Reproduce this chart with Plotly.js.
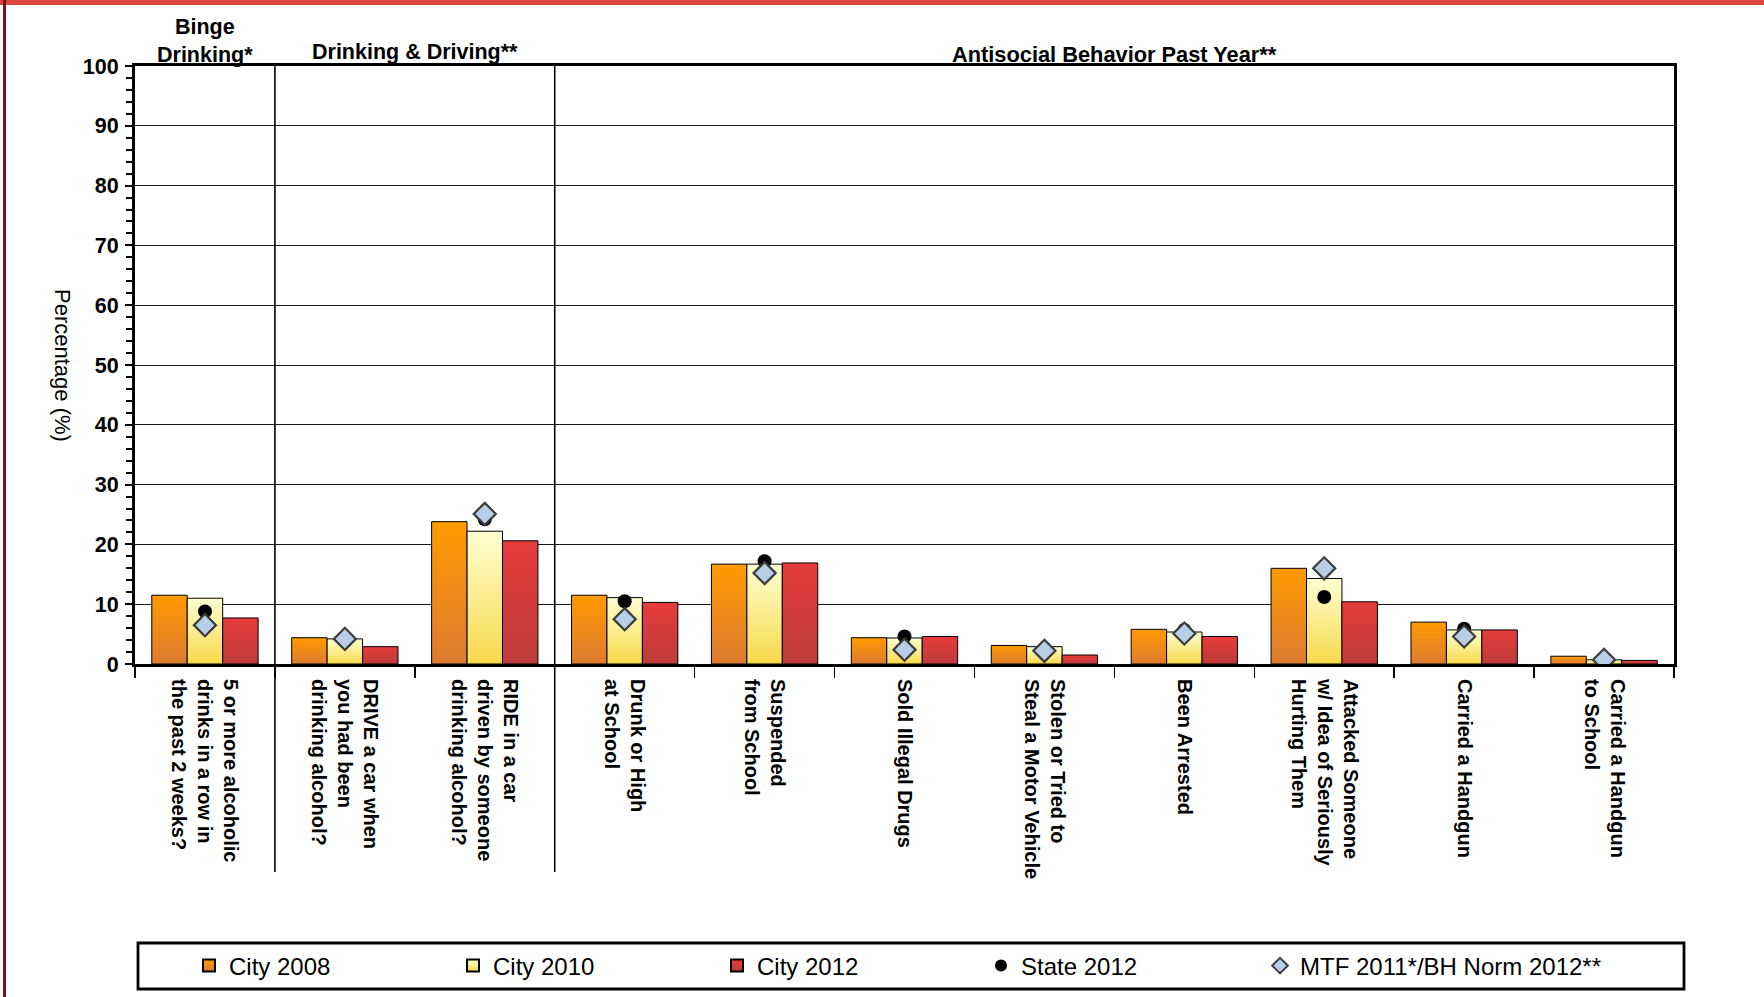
<!DOCTYPE html>
<html>
<head>
<meta charset="utf-8">
<script src="https://cdn.plot.ly/plotly-3.0.1.min.js"></script>
<style>
  html, body { margin: 0; padding: 0; background: #fff; }
  #chart { width: 1764px; height: 997px; }
</style>
</head>
<body>
<div id="chart"></div>
<script>
const categories = [
  "5 or more alcoholic<br>drinks in a row in<br>the past 2 weeks?",
  "DRIVE a car when<br>you had been<br>drinking alcohol?",
  "RIDE in a car<br>driven by someone<br>drinking alcohol?",
  "Drunk or High<br>at School",
  "Suspended<br>from School",
  "Sold Illegal Drugs",
  "Stolen or Tried to<br>Steal a Motor Vehicle",
  "Been Arrested",
  "Attacked Someone<br>w/ Idea of Seriously<br>Hurting Them",
  "Carried a Handgun",
  "Carried a Handgun<br>to School"
];
const city2008 = [11.5, 4.4, 23.8, 11.5, 16.7, 4.4, 3.1, 5.8, 16.0, 7.0, 1.3];
const city2010 = [11.0, 4.2, 22.2, 11.1, 16.7, 4.35, 2.9, 5.35, 14.3, 5.7, 0.7];
const city2012 = [7.7, 2.9, 20.6, 10.3, 16.9, 4.6, 1.5, 4.6, 10.4, 5.7, 0.6];
const state2012 = [8.8, 3.8, 24.2, 10.5, 17.2, 4.6, 2.2, 5.7, 11.2, 5.9, 0.8];
const mtfNorm = [6.5, 4.2, 25.1, 7.5, 15.2, 2.4, 2.2, 5.1, 16.0, 4.6, 0.7];
const seriesNames = ["City 2008", "City 2010", "City 2012", "State 2012", "MTF 2011*/BH Norm 2012**"];
const sectionTitles = ["Binge<br>Drinking*", "Drinking & Driving**", "Antisocial Behavior Past Year**"];

const FONT = "Liberation Sans, Arial, sans-serif";

// plot-area geometry in pixels
const PL = 135, PR = 1674, PT = 66, PB = 664;
const PW = PR - PL, PH = PB - PT;
const px2x = function (px) { return (px - PL) / PW; };
const px2y = function (py) { return (PB - py) / PH; };

const barLine = { color: "#000", width: 1 };
const traces = [
  { type: "bar", name: seriesNames[0], x: categories, y: city2008, legend: "legend",
    marker: { color: "#F08C1E", line: barLine } },
  { type: "bar", name: seriesNames[1], x: categories, y: city2010, legend: "legend2",
    marker: { color: "#FBEFA0", line: barLine } },
  { type: "bar", name: seriesNames[2], x: categories, y: city2012, legend: "legend3",
    marker: { color: "#D83B3B", line: barLine } },
  { type: "scatter", mode: "markers", name: seriesNames[3], x: categories, y: state2012, legend: "legend4",
    marker: { symbol: "circle", color: "#000", size: 14 } },
  { type: "scatter", mode: "markers", name: seriesNames[4], x: categories, y: mtfNorm, legend: "legend5",
    marker: { symbol: "diamond", color: "#B8CDE6", size: 17, line: { color: "#3c3c3c", width: 2.2 } } }
];

function legendAt(leftPx) {
  return {
    orientation: "h", x: px2x(leftPx), xanchor: "left", y: px2y(966), yanchor: "middle",
    font: { family: FONT, size: 24, color: "#000" }, itemsizing: "constant",
    bgcolor: "rgba(0,0,0,0)", borderwidth: 0
  };
}

const layout = {
  width: 1764, height: 997,
  paper_bgcolor: "#fff", plot_bgcolor: "#fff",
  margin: { l: PL, r: 1764 - PR, t: PT, b: 997 - PB, autoexpand: false },
  font: { family: FONT, color: "#000" },
  barmode: "group", bargap: 0.24, bargroupgap: 0,
  showlegend: true,
  legend: legendAt(189),
  legend2: legendAt(453),
  legend3: legendAt(717),
  legend4: legendAt(981),
  legend5: legendAt(1260),
  xaxis: {
    type: "category", range: [-0.5, 10.5],
    tickson: "boundaries", ticks: "outside", ticklen: 11, tickwidth: 1.5, tickcolor: "#000",
    ticklabelstandoff: 8,
    tickangle: 90, tickfont: { family: FONT, size: 20, color: "#000", weight: "bold" },
    showline: true, linecolor: "#000", linewidth: 3, mirror: true,
    showgrid: false, zeroline: false, fixedrange: true
  },
  yaxis: {
    range: [0, 100], dtick: 10, tick0: 0,
    ticks: "outside", ticklen: 7, tickwidth: 2, tickcolor: "#000",
    ticklabelstandoff: 2,
    minor: { dtick: 2, ticks: "outside", ticklen: 6, tickwidth: 2, tickcolor: "#000", showgrid: false },
    tickfont: { family: FONT, size: 21.5, color: "#000", weight: "bold" },
    showline: true, linecolor: "#000", linewidth: 3, mirror: true,
    showgrid: true, gridcolor: "#1a1a1a", gridwidth: 1,
    zeroline: false, fixedrange: true
  },
  shapes: [
    { type: "line", xref: "x", yref: "paper", x0: 0.5, x1: 0.5, y0: px2y(872), y1: 1, line: { color: "#000", width: 1.6 } },
    { type: "line", xref: "x", yref: "paper", x0: 2.5, x1: 2.5, y0: px2y(872), y1: 1, line: { color: "#000", width: 1.6 } },
    { type: "rect", xref: "paper", yref: "paper",
      x0: px2x(138), x1: px2x(1684), y0: px2y(989), y1: px2y(943),
      line: { color: "#000", width: 2.8 }, fillcolor: "rgba(0,0,0,0)", layer: "below" },
    { type: "rect", xref: "paper", yref: "paper",
      x0: px2x(0), x1: px2x(1764), y0: px2y(5), y1: px2y(0),
      line: { width: 0 }, fillcolor: "#D9473D" },
    { type: "rect", xref: "paper", yref: "paper",
      x0: px2x(3), x1: px2x(6), y0: px2y(997), y1: px2y(0),
      line: { width: 0 }, fillcolor: "#7E1414" }
  ],
  annotations: [
    { text: sectionTitles[0], xref: "x", yref: "paper", x: 0, y: px2y(41.5), yanchor: "middle",
      showarrow: false, font: { family: FONT, size: 21.5, color: "#000", weight: "bold" } },
    { text: sectionTitles[1], xref: "x", yref: "paper", x: 1.5, y: px2y(52), yanchor: "middle",
      showarrow: false, font: { family: FONT, size: 21.5, color: "#000", weight: "bold" } },
    { text: sectionTitles[2], xref: "x", yref: "paper", x: 6.5, y: px2y(54), yanchor: "middle",
      showarrow: false, font: { family: FONT, size: 21.8, color: "#000", weight: "bold" } },
    { text: "Percentage (%)", xref: "paper", yref: "paper", x: px2x(63), y: px2y(365),
      xanchor: "center", yanchor: "middle", textangle: 90, showarrow: false,
      font: { family: FONT, size: 22, color: "#000" } }
  ]
};

Plotly.newPlot("chart", traces, layout, { staticPlot: true, displayModeBar: false }).then(function (gd) {
  // vertical gradients on the bar fills, like the original chart
  const svg = gd.querySelector(".main-svg");
  const ns = "http://www.w3.org/2000/svg";
  let defs = svg.querySelector("defs");
  if (!defs) { defs = document.createElementNS(ns, "defs"); svg.insertBefore(defs, svg.firstChild); }
  const grads = [
    ["g2008", "#FF9A00", "#DD7B32"],
    ["g2010", "#FFFFD2", "#F7D94A"],
    ["g2012", "#E63B3B", "#BE3B3B"]
  ];
  grads.forEach(function (g) {
    const lg = document.createElementNS(ns, "linearGradient");
    lg.setAttribute("id", g[0]);
    lg.setAttribute("x1", "0"); lg.setAttribute("y1", "0");
    lg.setAttribute("x2", "0"); lg.setAttribute("y2", "1");
    [[0, g[1]], [1, g[2]]].forEach(function (s) {
      const st = document.createElementNS(ns, "stop");
      st.setAttribute("offset", s[0]);
      st.setAttribute("stop-color", s[1]);
      lg.appendChild(st);
    });
    defs.appendChild(lg);
  });
  gd.querySelectorAll(".barlayer .trace.bars").forEach(function (t, i) {
    if (i < 3) t.querySelectorAll("path").forEach(function (p) { p.style.fill = "url(#" + grads[i][0] + ")"; });
  });
  const legendClasses = ["legend", "legend2", "legend3"];
  legendClasses.forEach(function (cls, i) {
    const lg = gd.querySelector("g." + cls);
    if (lg) lg.querySelectorAll(".legendpoints path").forEach(function (p) { p.style.fill = "url(#" + grads[i][0] + ")"; });
  });
});
</script>
</body>
</html>
